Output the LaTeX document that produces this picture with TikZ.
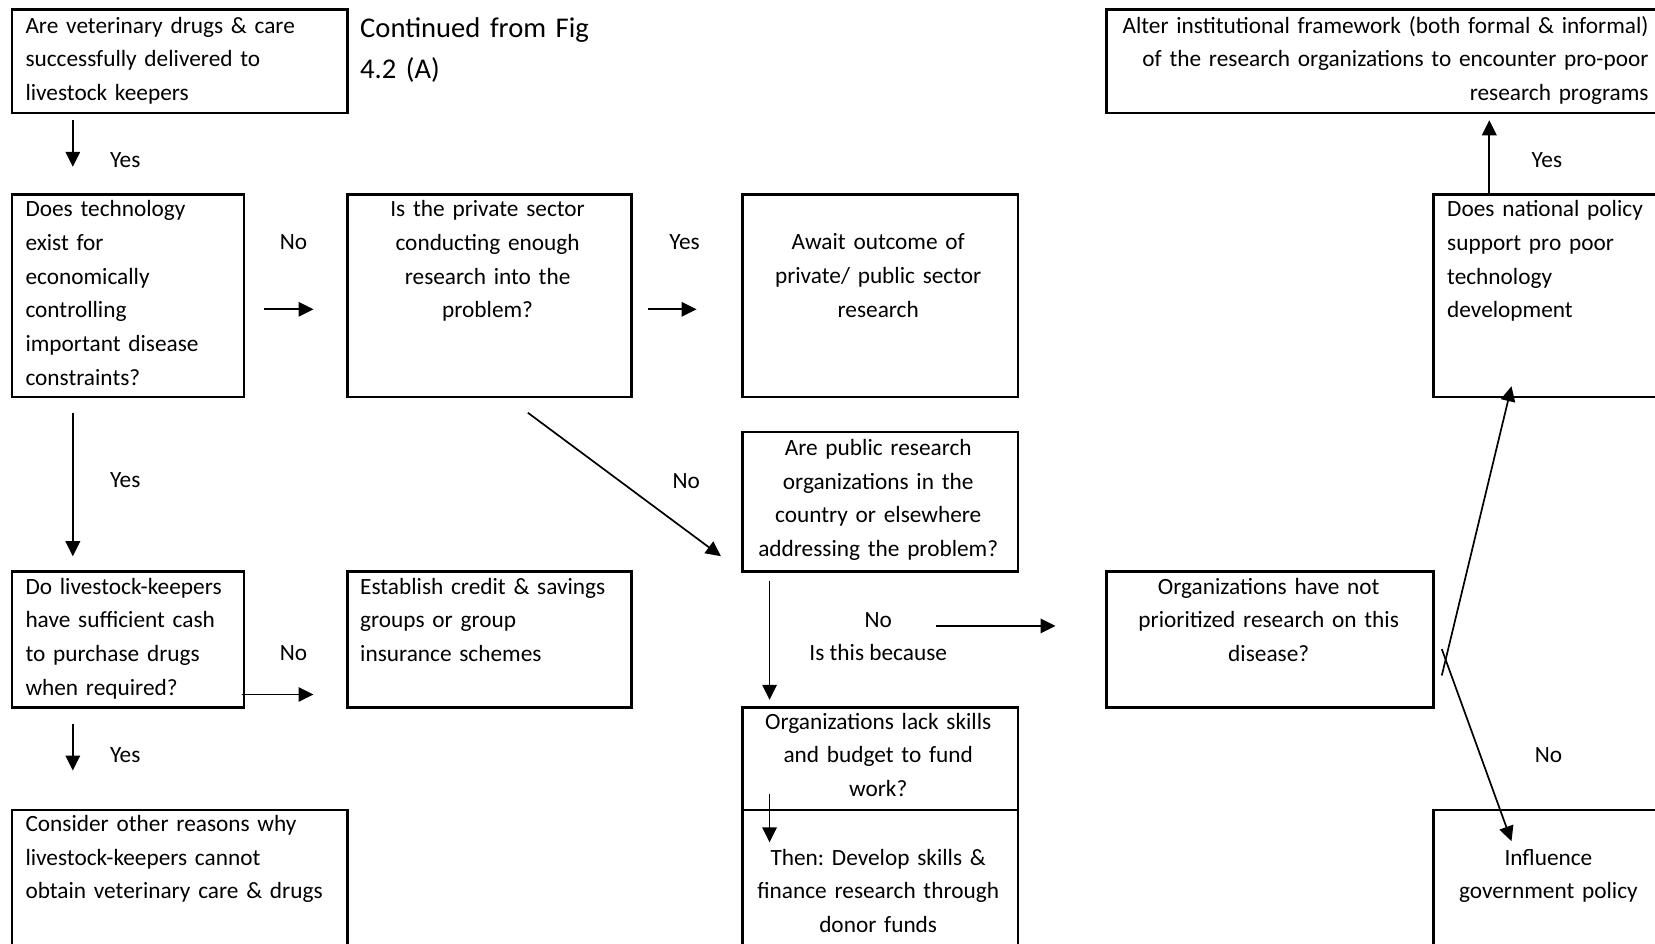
\documentclass[tikz,border=0pt]{standalone}
\usepackage{fontspec}
\setmainfont{Carlito}
\usetikzlibrary{arrows.meta}
\frenchspacing
\begin{document}
\begin{tikzpicture}[x=1pt,y=-1pt,
  box/.style={draw, line width=2.5pt, anchor=north west, inner sep=0pt},
  txt/.style={inner sep=0pt, font=\fontsize{23.3}{33.7}\selectfont},
  tl/.style={txt, anchor=base west, align=left},
  tc/.style={txt, anchor=base, align=center},
  tr/.style={txt, anchor=base east, align=right},
  arr/.style={-{Triangle[length=15pt,width=14.5pt]}, line width=1.7pt}]
\useasboundingbox (0,0) rectangle (1655,944);
\clip (0,0) rectangle (1655,944);
% boxes
\node[box, minimum width=335.6pt, minimum height=103.5pt] (A) at (10.6,8.4) {};
\node[box, minimum width=232.2pt, minimum height=202.6pt] (B) at (10.6,193.2) {};
\node[box, minimum width=283.9pt, minimum height=202.6pt] (C) at (346.2,193.2) {};
\node[box, minimum width=275.5pt, minimum height=202.6pt] (D) at (741,193.2) {};
\node[box, minimum width=600pt, minimum height=103.5pt] (E) at (1105.1,8.4) {};
\node[box, minimum width=300pt, minimum height=202.6pt] (F) at (1432.3,193.2) {};
\node[box, minimum width=275.5pt, minimum height=139.4pt] (G) at (741,430.6) {};
\node[box, minimum width=327.2pt, minimum height=136.1pt] (H) at (1105.1,570) {};
\node[box, minimum width=232.2pt, minimum height=136.1pt] (I) at (10.6,570) {};
\node[box, minimum width=283.9pt, minimum height=136.1pt] (J) at (346.2,570) {};
\node[box, minimum width=335.6pt, minimum height=200pt] (K) at (10.6,808.5) {};
\node[box, minimum width=275.5pt, minimum height=102.4pt] (L1) at (741,706.1) {};
\node[box, minimum width=275.5pt, minimum height=200pt] (L2) at (741,808.5) {};
\node[box, minimum width=300pt, minimum height=200pt] (M) at (1432.3,808.5) {};
% texts
\node[tl, text width=320pt] (tA) at (25.3,33.3) {Are veterinary drugs \& care\\successfully delivered to\\livestock keepers};
\node[tl, text width=300pt, font=\fontsize{28.6}{41}\selectfont] (cont) at (360,37.3) {Continued from Fig\\4.2 (A)};
\node[tl, text width=220pt] (tB) at (25.3,216.7) {Does technology\\exist for\\economically\\controlling\\important disease\\constraints?};
\node[tc, text width=280pt] (tC) at (487.6,216.7) {Is the private sector\\conducting enough\\research into the\\problem?};
\node[tc, text width=270pt] (tD) at (878.2,250) {Await outcome of\\private/ public sector\\research};
\node[tr, text width=560pt] (tE) at (1648.7,33.3) {Alter institutional framework (both formal \& informal)\\of the research organizations to encounter pro-poor\\research programs};
\node[tl, text width=220pt] (tF) at (1447,216.7) {Does national policy\\support pro poor\\technology\\development};
\node[tc, text width=270pt] (tG) at (878.2,455.3) {Are public research\\organizations in the\\country or elsewhere\\addressing the problem?};
\node[tc, text width=320pt] (tH) at (1268.7,594) {Organizations have not\\prioritized research on this\\disease?};
\node[tl, text width=230pt] (tI) at (25.3,594) {Do livestock-keepers\\have sufficient cash\\to purchase drugs\\when required?};
\node[tl, text width=270pt] (tJ) at (360,594) {Establish credit \& savings\\groups or group\\insurance schemes};
\node[tl, text width=320pt] (tK) at (25.3,831.3) {Consider other reasons why\\livestock-keepers cannot\\obtain veterinary care \& drugs};
\node[tc, text width=270pt] (tL1) at (878.2,729) {Organizations lack skills\\and budget to fund\\work?};
\node[tc, text width=270pt] (tL2) at (878.2,865) {Then: Develop skills \&\\finance research through\\donor funds};
\node[tc, text width=220pt] (tM) at (1548.4,865) {Influence\\government policy};
% labels
\node[tl] (y1) at (109.8,168) {Yes};
\node[tl] (n1) at (279.7,250) {No};
\node[tl] (y2) at (669.2,250) {Yes};
\node[tl] (y3) at (1531.5,168) {Yes};
\node[tl] (n2) at (672.4,488) {No};
\node[tl] (y4) at (109.8,487.5) {Yes};
\node[tl] (n3) at (279.7,660.6) {No};
\node[tl] (y5) at (109.8,762.7) {Yes};
\node[tc] (n4) at (878.2,627.6) {No};
\node[tc] (bec) at (878.2,660.9) {Is this because};
\node[tc] (n5) at (1548.4,762.7) {No};
% arrow end points
\coordinate (a1s) at (72.8,120.3); \coordinate (a1e) at (72.8,166.8);
\coordinate (a2s) at (263.9,309.3); \coordinate (a2e) at (313.5,309.3);
\coordinate (a3s) at (648,309.3); \coordinate (a3e) at (696.6,309.3);
\coordinate (a4s) at (1489.3,193.2); \coordinate (a4e) at (1489.3,120.3);
\coordinate (a5s) at (527.8,412.7); \coordinate (a5e) at (720.9,556.2);
\coordinate (a6s) at (72.8,412.7); \coordinate (a6e) at (72.8,556.2);
\coordinate (a7s) at (769.5,580.5); \coordinate (a7e) at (769.5,699.8);
\coordinate (a8s) at (936.2,625.9); \coordinate (a8e) at (1055.5,625.9);
\coordinate (a9s) at (241.7,694.5); \coordinate (a9e) at (313.5,694.5);
\coordinate (a10s) at (72.8,724); \coordinate (a10e) at (72.8,770.5);
\coordinate (a11s) at (769.5,793.7); \coordinate (a11e) at (769.5,842.3);
\coordinate (a12s) at (1441.8,675.5); \coordinate (a12e) at (1511.5,386.3);
\coordinate (a13s) at (1441.8,649.1); \coordinate (a13e) at (1511.5,841.2);
\foreach \i in {1,...,13} {\draw[arr] (a\i s) -- (a\i e);}
\end{tikzpicture}
\end{document}
